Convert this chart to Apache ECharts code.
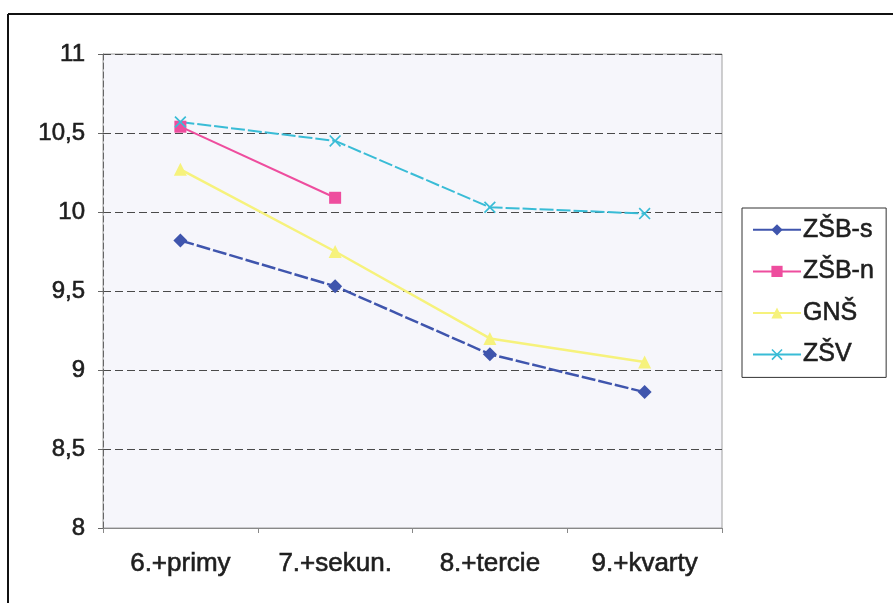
<!DOCTYPE html>
<html>
<head>
<meta charset="utf-8">
<script src="https://cdn.jsdelivr.net/npm/echarts@6/dist/echarts.min.js"></script>
<style>
  html, body { margin: 0; padding: 0; background: #ffffff; }
  #chart { width: 893px; height: 603px; }
</style>
</head>
<body>
<div id="chart"></div>
<script>
// Categories (grade groups) and series values
const categories = ['6.+primy', '7.+sekun.', '8.+tercie', '9.+kvarty'];
const zsbS = [9.82, 9.53, 9.10, 8.86];
const zsbN = [10.54, 10.09, null, null];
const gns = [10.27, 9.75, 9.20, 9.05];
const zsv = [10.57, 10.45, 10.03, 9.99];
const yTicks = { min: 8, max: 11, step: 0.5 };

const FONT = '"Liberation Sans", Arial, sans-serif';
const TEXT = '#1e1e1e';
const crossPath = 'path://M0,1L1,0L5,4L9,0L10,1L6,5L10,9L9,10L5,6L1,10L0,9L4,5Z';

function lineSeries(name, data, color, symbol, size, dash, width) {
  return {
    name: name,
    type: 'line',
    data: data,
    symbol: symbol,
    symbolSize: size,
    connectNulls: false,
    itemStyle: { color: color },
    lineStyle: { color: color, width: width, type: dash },
    emphasis: { disabled: true },
    z: 3
  };
}

const chart = echarts.init(document.getElementById('chart'), null, { renderer: 'canvas' });
chart.setOption({
  animation: false,
  backgroundColor: '#ffffff',
  textStyle: { fontFamily: FONT },
  grid: {
    left: 103, top: 54, width: 619, height: 474,
    show: true, backgroundColor: '#f6f6fb', borderColor: '#a0a0a0', borderWidth: 1
  },
  xAxis: {
    type: 'category',
    data: categories,
    boundaryGap: true,
    axisLine: { lineStyle: { color: '#888888', width: 1 } },
    axisTick: { show: true, length: 5, lineStyle: { color: '#888888' } },
    axisLabel: {
      color: TEXT, fontSize: 26, margin: 23, fontFamily: FONT,
      textBorderColor: TEXT, textBorderWidth: 0.6
    },
    splitLine: { show: false }
  },
  yAxis: {
    type: 'value',
    min: yTicks.min, max: yTicks.max, interval: yTicks.step,
    axisLine: { show: true, lineStyle: { color: '#666666', width: 1, type: [6, 3] } },
    axisTick: { show: true, length: 5, lineStyle: { color: '#666666' } },
    axisLabel: {
      color: TEXT, fontSize: 24, margin: 18, fontFamily: FONT,
      textBorderColor: TEXT, textBorderWidth: 0.6,
      formatter: v => String(v).replace('.', ',')
    },
    splitLine: { show: true, lineStyle: { color: '#4a4a4a', width: 1, type: [8, 4] } }
  },
  legend: {
    orient: 'vertical',
    left: 742, top: 208,
    padding: [9, 12, 10, 10],
    borderColor: '#333333', borderWidth: 1,
    itemWidth: 48, itemHeight: 14, itemGap: 16,
    lineStyle: { type: 'solid' },
    textStyle: {
      color: TEXT, fontSize: 25, fontFamily: FONT, padding: [0, 0, 0, -3],
      textBorderColor: TEXT, textBorderWidth: 0.6
    },
    data: ['ZŠB-s', 'ZŠB-n', 'GNŠ', 'ZŠV']
  },
  series: [
    lineSeries('ZŠB-s', zsbS, '#3f55ad', 'diamond', 14, [14, 3], 2.5),
    lineSeries('ZŠB-n', zsbN, '#ee4d9e', 'rect', 12, 'solid', 2),
    lineSeries('GNŠ', gns, '#f6f27c', 'triangle', 13, 'solid', 2.5),
    lineSeries('ZŠV', zsv, '#39bcd6', crossPath, 12, [14, 3], 2)
  ],
  graphic: [
    { type: 'line', shape: { x1: 8, y1: 14, x2: 893, y2: 14 }, style: { stroke: '#111111', lineWidth: 2 } },
    { type: 'line', shape: { x1: 8, y1: 14, x2: 8, y2: 603 }, style: { stroke: '#111111', lineWidth: 2 } }
  ]
});
</script>
</body>
</html>
